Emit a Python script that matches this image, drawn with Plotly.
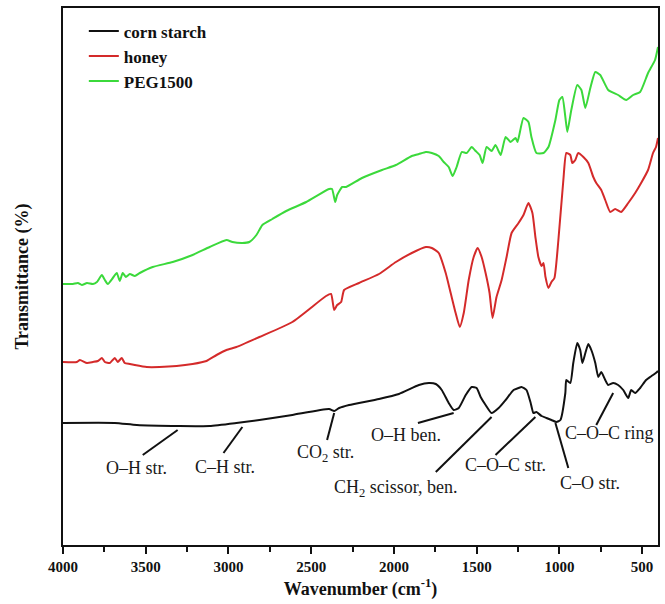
import plotly.graph_objects as go

# ---- data (wavenumber in cm^-1, transmittance in arbitrary offset units) ----
starch_wn = [4000, 3687, 3554, 3295, 3114, 2952, 2813, 2614, 2392, 2361, 2331, 2271, 2090, 1970,
             1849, 1789, 1747, 1711, 1669, 1639, 1608, 1566, 1530, 1500, 1476, 1446, 1410, 1367,
             1325, 1277, 1247, 1229, 1199, 1175, 1157, 1139, 1108, 1078, 1048, 1018, 994, 964,
             958, 934, 916, 892, 874, 861, 843, 825, 807, 783, 765, 747, 723, 705, 675, 645,
             614, 584, 566, 542, 512, 476, 452, 434, 410, 404]
starch_t = [122, 122, 120, 119, 119, 122, 125, 130, 136, 134, 137, 140, 146, 151,
            160, 162, 161, 155, 142, 135, 137, 150, 158, 157, 148, 140, 132, 137,
            145, 155, 157, 158, 155, 143, 132, 133, 129, 127, 125, 123, 125, 152,
            165, 162, 182, 202, 195, 182, 192, 201, 195, 182, 168, 173, 165, 160, 162, 160,
            155, 147, 155, 152, 157, 165, 168, 170, 173, 174]

honey_wn = [4000, 3916, 3898, 3855, 3819, 3789, 3765, 3747, 3717, 3687, 3669, 3645, 3627, 3596,
            3566, 3494, 3416, 3313, 3217, 3133, 3072, 3012, 2952, 2813, 2614, 2410, 2380, 2361,
            2343, 2319, 2301, 2211, 2090, 1988, 1892, 1807, 1771, 1729, 1687, 1657, 1627, 1602,
            1578, 1548, 1518, 1494, 1470, 1446, 1422, 1404, 1380, 1349, 1319, 1289, 1247, 1217,
            1187, 1163, 1145, 1127, 1108, 1096, 1084, 1066, 1048, 1030, 1006, 976, 958, 934,
            922, 904, 886, 855, 825, 795, 777, 747, 723, 693, 663, 627, 584, 542, 506, 464,
            434, 416, 404]
honey_t = [183, 183, 185, 182, 183, 184, 187, 183, 182, 187, 183, 187, 182, 181,
           180, 178, 178, 179, 181, 184, 190, 195, 198, 208, 223, 249, 251, 235,
           240, 243, 255, 262, 271, 283, 292, 298, 297, 292, 272, 252, 232, 218,
           232, 265, 288, 297, 288, 272, 252, 227, 248, 265, 288, 312, 322, 330,
           342, 332, 308, 288, 279, 282, 268, 257, 263, 267, 305, 365, 392, 390,
           382, 385, 392, 388, 382, 368, 362, 355, 345, 333, 336, 333, 342, 352, 362, 375,
           392, 398, 407]

peg_wn = [4000, 3940, 3910, 3886, 3855, 3819, 3795, 3765, 3747, 3729, 3699, 3675, 3657, 3639,
          3620, 3596, 3566, 3536, 3458, 3337, 3217, 3114, 3012, 2976, 2916, 2874, 2831, 2795,
          2735, 2651, 2530, 2392, 2374, 2355, 2343, 2313, 2289, 2193, 2072, 1988, 1892, 1849,
          1807, 1771, 1729, 1699, 1669, 1645, 1621, 1590, 1560, 1530, 1506, 1482, 1464, 1440,
          1410, 1386, 1355, 1325, 1295, 1265, 1253, 1217, 1187, 1169, 1139, 1096, 1066, 1024,
          1000, 982, 964, 952, 928, 892, 867, 843, 813, 783, 753, 705, 645, 596, 554, 512,
          464, 422, 404]
peg_t = [261, 261, 262, 260, 262, 261, 263, 270, 265, 261, 267, 272, 264, 272,
         268, 271, 269, 272, 278, 283, 290, 298, 305, 303, 302, 303, 310, 320,
         326, 334, 343, 356, 356, 343, 350, 358, 358, 367, 375, 380, 389, 391,
         393, 392, 389, 383, 378, 369, 378, 393, 392, 398, 394, 390, 382, 398,
         394, 400, 390, 408, 403, 407, 403, 427, 423, 408, 392, 392, 398, 425,
         445, 448, 428, 413, 435, 460, 455, 437, 457, 473, 470, 455, 450, 445, 450, 453,
         472, 485, 498]

series_names = ["corn starch", "honey", "PEG1500"]
series_colors = ["#111111", "#d42a2a", "#3bd93b"]

major_ticks = [4000, 3500, 3000, 2500, 2000, 1500, 1000, 500]
minor_ticks = [3750, 3250, 2750, 2250, 1750, 1250, 750]

# band assignment labels: (text, label x, label y, leader x0, y0, x1, y1)
band_labels = [
    ("O\u2013H str.", 3554, 77, 3518, 90, 3307, 115),
    ("C\u2013H str.", 3018, 78, 3030, 92, 2916, 118),
    ("CO<sub>2</sub> str.", 2416, 92, 2404, 105, 2361, 132),
    ("CH<sub>2</sub> scissor, ben.", 1988, 57, 1747, 73, 1410, 128),
    ("O\u2013H ben.", 1928, 110, 1855, 122, 1639, 132),
    ("C\u2013O\u2013C str.", 1325, 80, 1386, 90, 1145, 128),
    ("C\u2013O str.", 813, 62, 946, 77, 1024, 122),
    ("C\u2013O\u2013C ring", 699, 112, 777, 120, 675, 152),
]

SERIF = "Liberation Serif, Times New Roman, serif"

fig = go.Figure()
for name, wn, t, col in zip(series_names, [starch_wn, honey_wn, peg_wn],
                            [starch_t, honey_t, peg_t], series_colors):
    fig.add_trace(go.Scatter(x=wn, y=t, mode="lines", name=name,
                             line=dict(color=col, width=2, shape="spline", smoothing=0.5)))

for txt, lx, ly, x0, y0, x1, y1 in band_labels:
    fig.add_annotation(x=lx, y=ly, xref="x", yref="y", text=txt, showarrow=False,
                       font=dict(family=SERIF, size=18, color="#1a1a1a"))
    fig.add_shape(type="line", x0=x0, y0=y0, x1=x1, y1=y1, xref="x", yref="y",
                  line=dict(color="#111111", width=2))

fig.update_layout(
    width=665, height=604,
    margin=dict(l=63, r=5, t=8, b=59),
    paper_bgcolor="white", plot_bgcolor="white",
    font=dict(family=SERIF, color="#111111"),
    showlegend=True,
    legend=dict(x=0.035, y=0.99, xanchor="left", yanchor="top",
                bgcolor="rgba(0,0,0,0)",
                font=dict(family=SERIF, size=17, weight="bold", color="#111111"),
                tracegroupgap=0),
)
fig.update_xaxes(
    range=[4000, 404], tickvals=major_ticks, ticktext=[str(v) for v in major_ticks],
    ticks="outside", ticklen=7, tickwidth=1.5, tickcolor="#111111",
    minor=dict(tickvals=minor_ticks, ticks="outside", ticklen=5, tickwidth=1.5,
               tickcolor="#111111"),
    showline=True, linecolor="#111111", linewidth=1.8, mirror=True,
    showgrid=False, zeroline=False,
    tickfont=dict(family=SERIF, size=15, weight="bold", color="#111111"),
    title=dict(text="Wavenumber (cm<sup>-1</sup>)", standoff=8,
               font=dict(family=SERIF, size=18, weight="bold", color="#111111")),
)
fig.update_yaxes(
    range=[0, 537], showticklabels=False, ticks="",
    showline=True, linecolor="#111111", linewidth=1.8, mirror=True,
    showgrid=False, zeroline=False,
    title=dict(text="Transmittance (%)", standoff=28,
               font=dict(family=SERIF, size=18, weight="bold", color="#111111")),
)

fig.write_html("out.html")
